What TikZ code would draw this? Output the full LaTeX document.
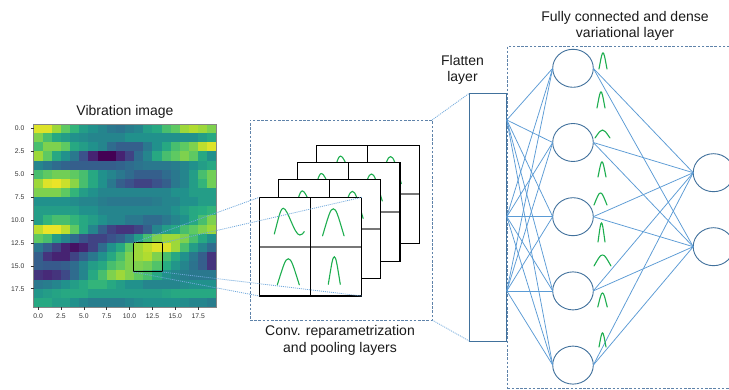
\documentclass[tikz,border=0pt]{standalone}
\usepackage{fontspec}
\setmainfont{Liberation Sans}
\usetikzlibrary{shapes.geometric}

% viridis colour stops
\definecolor{vc0}{HTML}{440154}
\definecolor{vc1}{HTML}{472C7A}
\definecolor{vc2}{HTML}{3B528B}
\definecolor{vc3}{HTML}{2C728E}
\definecolor{vc4}{HTML}{21918C}
\definecolor{vc5}{HTML}{28AE80}
\definecolor{vc6}{HTML}{5EC962}
\definecolor{vc7}{HTML}{ADDC30}
\definecolor{vc8}{HTML}{FDE725}

\definecolor{linkblue}{HTML}{5B9BD5}
\definecolor{nodeblue}{HTML}{41719C}
\definecolor{boxblue}{HTML}{5F83AA}
\definecolor{projblue}{HTML}{6FA8DC}
\definecolor{curvegreen}{HTML}{1DAE4F}
\definecolor{framegray}{HTML}{858585}
\definecolor{midgray}{HTML}{777777}
\definecolor{ticktext}{HTML}{333333}
\definecolor{labeltext}{HTML}{1A1A1A}

% value 0..100 -> viridis colour "cellc"
\newcommand\cellcolour[1]{%
  \pgfmathtruncatemacro\vseg{min(7,floor(#1/12.5))}%
  \pgfmathtruncatemacro\vnext{\vseg+1}%
  \pgfmathtruncatemacro\vpct{(#1-12.5*\vseg)*8}%
  \colorlet{cellc}{vc\vnext!\vpct!vc\vseg}}

% gaussian bump: peak x, peak y, width, height
\newcommand\gbump[4]{%
  \draw ({#1-0.5*#3},{#2+#4}) .. controls ({#1-0.22*#3},{#2+0.25*#4}) and ({#1-0.14*#3},{#2}) .. (#1,#2)
        .. controls ({#1+0.14*#3},{#2}) and ({#1+0.22*#3},{#2+0.25*#4}) .. ({#1+0.5*#3},{#2+#4});}

% one 2x2 feature map: top-left x, top-left y, node name
\newcommand\featmap[3]{%
  \node[fmapbox, anchor=north west] (#3) at (#1,#2) {};
  \draw[line width=2, color=midgray] (#3.west) -- (#3.east);
  \draw[line width=0.9, color=black] (#3.north) -- (#3.south);
  \begin{scope}[shift={(#1,#2)}, curvestyle]
    \draw (15,36.7) .. controls (19,22) and (21,11) .. (24,11)
          .. controls (28.5,11) and (35,37.7) .. (40.5,37.7)
          .. controls (42.5,37.7) and (44,36) .. (45,34.3);
    \gbump{74}{11.5}{21.5}{27}
    \gbump{29}{61.5}{22}{26}
    \gbump{75}{59.5}{12}{27.5}
  \end{scope}
  \draw[line width=1.1, color=black] (#3.north west) rectangle (#3.south east);}

\tikzset{
  lbl/.style={font=\fontsize{14}{16.5}\selectfont, text=labeltext, align=center, inner sep=0},
  ticklab/.style={font=\fontsize{6.8}{7}\selectfont, text=ticktext, inner sep=0},
  tickline/.style={draw=ticktext, line width=0.5},
  fmapbox/.style={draw=black, fill=white, line width=1.1, minimum width=102.5, minimum height=98.7, inner sep=0, outer sep=0},
  curvestyle/.style={draw=curvegreen, line width=1.1, line cap=round},
  dashbox/.style={draw=boxblue, line width=0.9, dash pattern=on 2.6pt off 1.6pt, inner sep=0, outer sep=0},
  projline/.style={draw=projblue, line width=0.8, dash pattern=on 1pt off 1pt},
  link/.style={draw=linkblue, line width=0.75},
  neuron/.style={ellipse, draw=nodeblue, line width=0.9, minimum width=40.6, minimum height=38, inner sep=0, outer sep=0},
}

\begin{document}
\begin{tikzpicture}[x=1pt, y=-1pt]
\useasboundingbox (0,0) rectangle (729,390);
\fill[white] (0,0) rectangle (729,390);

% ---------------- vibration image (20 x 20 heat map) ----------------
\def\hx{33.5}
\def\hy{124}
\def\cw{9.15}
\foreach \rowvals [count=\r from 0] in {
  {95,95,85,75,65,55,50,45,40,38,42,45,55,60,70,75,85,88,85,80},
  {80,70,60,55,50,48,45,45,45,45,50,50,50,50,50,50,50,50,55,60},
  {70,80,80,75,60,55,50,45,35,30,30,30,40,50,60,70,75,80,90,95},
  {85,75,60,50,40,25,10,0,0,10,20,35,45,60,70,75,80,75,60,50},
  {45,40,35,32,30,30,30,30,30,32,35,38,40,40,40,42,45,50,55,60},
  {70,75,78,78,75,70,60,50,45,40,35,30,30,30,35,40,45,55,70,78},
  {85,95,97,92,82,70,60,50,40,30,25,20,20,25,30,40,45,55,65,78},
  {80,80,80,75,65,55,50,45,45,45,45,45,45,45,45,50,50,55,55,55},
  {50,50,50,50,48,45,45,42,40,40,40,40,40,42,45,45,50,50,55,55},
  {55,55,55,55,55,50,50,45,45,45,45,45,45,45,45,50,55,60,62,65},
  {55,65,70,70,65,60,55,50,45,45,40,40,35,35,40,45,50,60,70,80},
  {90,97,97,90,75,60,45,30,20,15,15,20,30,45,55,60,70,75,80,85},
  {75,70,55,45,35,25,20,20,25,30,40,55,70,80,85,85,80,70,60,50},
  {40,30,20,10,5,10,20,35,50,60,75,85,90,95,95,85,70,55,45,35},
  {30,15,10,10,20,30,40,50,60,70,80,85,88,80,70,60,50,40,30,15},
  {30,28,28,30,35,45,55,60,70,75,80,80,78,72,62,52,45,38,30,15},
  {15,12,15,22,35,45,60,70,80,85,80,75,70,60,50,45,42,40,40,40},
  {40,42,45,50,55,60,65,65,60,55,50,50,45,45,45,45,48,50,50,50},
  {52,55,58,60,60,60,55,55,55,55,55,55,55,55,58,60,60,60,60,60},
  {60,60,55,55,50,45,42,42,42,42,45,48,50,50,50,50,48,45,45,42}} {
  \foreach \v [count=\c from 0] in \rowvals {
    \cellcolour{\v}
    \fill[cellc] ({\hx+\c*\cw},{\hy+\r*\cw}) rectangle ++(\cw+0.25,\cw+0.25);
  }
}
\draw[framegray, line width=0.8] (\hx,\hy) rectangle ++(183,183);

% axis ticks and labels
\foreach \t/\lab in {0/0.0, 2.5/2.5, 5/5.0, 7.5/7.5, 10/10.0, 12.5/12.5, 15/15.0, 17.5/17.5} {
  \draw[tickline] ({\hx-3},{\hy+(\t+0.5)*\cw}) -- ++(3,0);
  \node[ticklab, anchor=east] at ({\hx-9},{\hy+(\t+0.5)*\cw}) {\lab};
  \draw[tickline] ({\hx+(\t+0.5)*\cw},{\hy+183}) -- ++(0,3);
  \node[ticklab, anchor=north] at ({\hx+(\t+0.5)*\cw},{\hy+190}) {\lab};
}
\node[lbl] (vibtitle) at (125,112) {Vibration image};

% highlighted receptive field
\node[draw=black, line width=1, minimum width=29, minimum height=29, inner sep=0, outer sep=0, anchor=north west] (sq) at (133,243) {};

% ---------------- convolution / pooling block ----------------
\node[dashbox, minimum width=182, minimum height=200, anchor=north west] (convbox) at (250,120) {};
\featmap{316.6}{145.1}{fm3}
\featmap{297.5}{162.5}{fm2}
\featmap{278.4}{179.9}{fm1}
\featmap{259.3}{197.3}{fm0}
\node[lbl] (convlabel) at (340,340.5) {Conv. reparametrization\\and pooling layers};

% projection of the receptive field onto the front feature map
\draw[projline] (sq.north west) -- (fm0.north west);
\draw[projline] (sq.north east) -- (fm0.north east);
\draw[projline] (sq.south west) -- (fm0.south west);
\draw[projline] (sq.south east) -- (fm0.south east);

% ---------------- flatten layer ----------------
\node[draw=nodeblue, line width=0.9, minimum width=37.5, minimum height=247.7, inner sep=0, outer sep=0, anchor=north west] (flat) at (469.3,93.3) {};
\node[lbl] (flatlabel) at (462.5,70) {Flatten\\layer};
\draw[projline] (convbox.north east) -- (flat.north west);
\draw[projline] (convbox.south east) -- (flat.south west);

% ---------------- dense variational layer ----------------
\node[dashbox, minimum width=240, minimum height=342.5, anchor=north west] (dense) at (507.6,46) {};
\node[lbl] (denselabel) at (625,26) {Fully connected and dense\\variational layer};

\foreach \i/\yy in {1/68.3, 2/142.5, 3/216.7, 4/290.9, 5/365.1}
  \node[neuron] (h\i) at (573,\yy) {};
\node[neuron] (o1) at (713.5,172.7) {};
\node[neuron] (o2) at (713.5,246.7) {};

\coordinate (src1) at (506.8,120);
\coordinate (src2) at (506.8,216.7);
\coordinate (src3) at (506.8,290.9);

\foreach \s in {src1,src2,src3}
  \foreach \h in {h1,h2,h3,h4,h5}
    \draw[link] (\s) -- (\h.west);
\foreach \h in {h1,h2,h3,h4,h5}
  \foreach \o in {o1,o2}
    \draw[link] (\h.east) -- (\o.west);

% weight distributions
\begin{scope}[curvestyle]
  \gbump{603}{53}{8}{16}
  \gbump{601}{92}{8}{16}
  \gbump{602.5}{130}{15}{8}
  \gbump{602}{162}{8}{15}
  \gbump{600.5}{193}{13}{12}
  \gbump{601.5}{223}{7}{19}
  \gbump{602.5}{255}{17}{11}
  \gbump{602.5}{293}{9.5}{14}
  \gbump{602.5}{333}{7}{14}
\end{scope}
\end{tikzpicture}
\end{document}
